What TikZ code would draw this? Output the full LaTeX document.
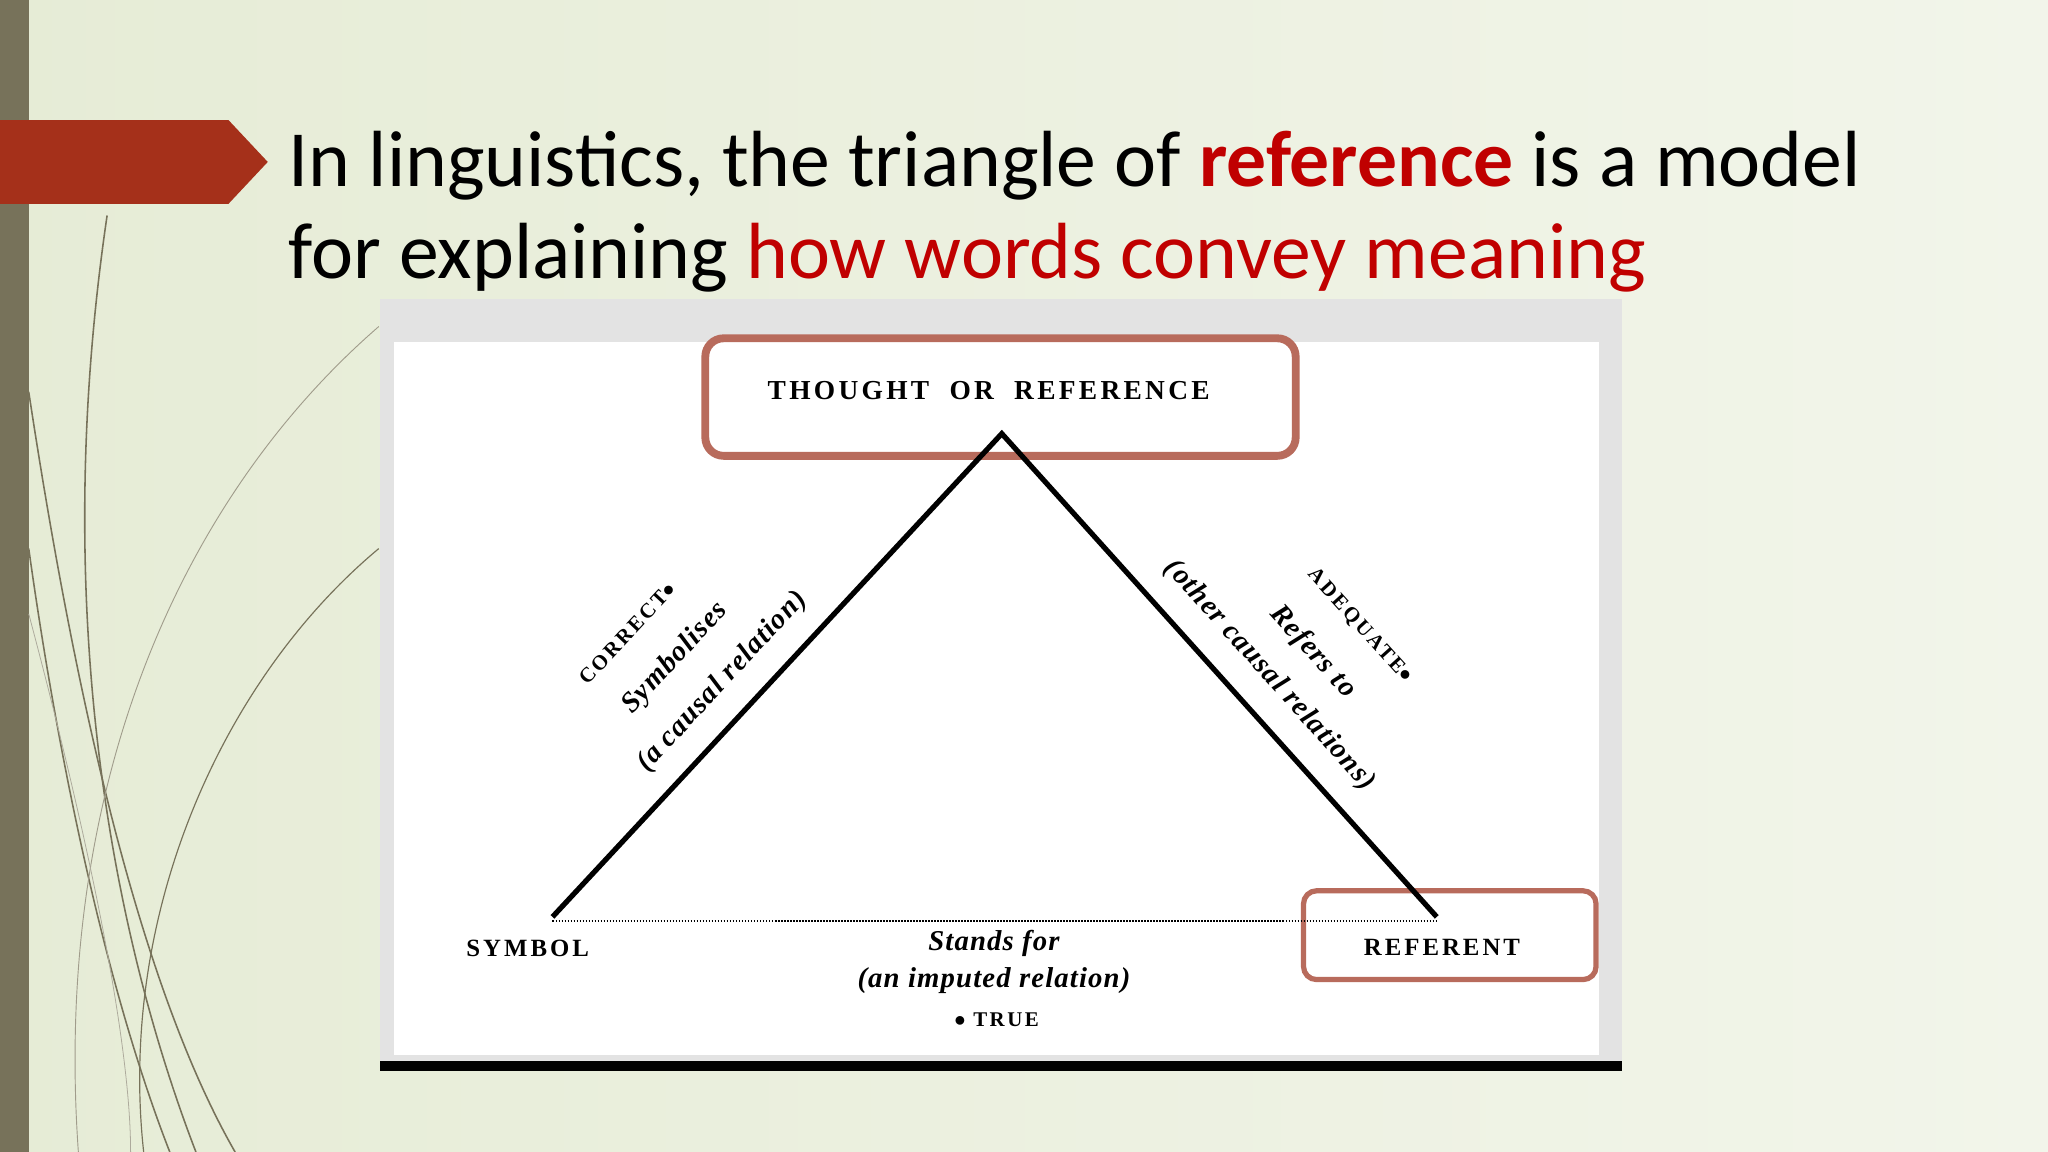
\documentclass[tikz,border=0pt]{standalone}
\usepackage{fontspec}
\setmainfont{Carlito}
\newfontfamily\dia[LetterSpace=12]{Liberation Serif}
\newfontfamily\diai[LetterSpace=4]{Liberation Serif}
\definecolor{bgl}{HTML}{E6ECD6}
\definecolor{bgr}{HTML}{F2F5EA}
\definecolor{olive}{HTML}{77725A}
\definecolor{arrowred}{HTML}{A5301A}
\definecolor{titlered}{HTML}{C00000}
\definecolor{boxred}{HTML}{B86B5C}
\begin{document}
\begin{tikzpicture}[x=1pt,y=-1pt,
  lab/.style={font=\dia\bfseries\fontsize{21}{23}\selectfont,inner sep=1pt},
  slab/.style={font=\dia\bfseries\fontsize{16}{18}\selectfont,inner sep=1pt},
  ilab/.style={font=\diai\bfseries\itshape\fontsize{22}{24}\selectfont,inner sep=1pt},
  rbox/.style={draw=boxred,line width=6pt,rounded corners=14pt}]
\useasboundingbox (0,0) rectangle (1568,882);
\shade[left color=bgl,right color=bgr] (0,0) rectangle (1568,882);
\fill[olive] (0,0) rectangle (22,882);
% decorative curves
\begin{scope}[olive,line width=1.2pt]
\draw (82,165) .. controls (40,450) and (80,700) .. (150,882);
\draw (22,300) .. controls (60,550) and (110,760) .. (180,882);
\draw (22,420) .. controls (50,620) and (90,780) .. (130,882);
\draw[line width=0.7pt,olive!70] (290,250) .. controls (140,380) and (40,600) .. (60,882);
\draw[line width=0.9pt] (290,420) .. controls (170,520) and (90,700) .. (110,882);
\draw[line width=0.6pt,olive!60] (22,470) .. controls (70,650) and (100,800) .. (100,882);
\end{scope}
% arrow
\fill[arrowred] (0,92) -- (175,92) -- (205,124) -- (175,156) -- (0,156) -- cycle;
% title
\node[anchor=base west,inner sep=0,font=\fontsize{61}{66}\selectfont] (t1) at (221,143)
  {In linguistics, the triangle of \textcolor{titlered}{\textbf{reference}} is a model};
\node[anchor=base west,inner sep=0,font=\fontsize{61}{66}\selectfont] (t2) at (221,213)
  {for explaining \textcolor{titlered}{how words convey meaning}};
% picture frame
\fill[gray!22] (291,229) rectangle (1242,820);
\fill[white] (302,262) rectangle (1224,808);
\fill[black] (291,812) rectangle (1242,820);
% nodes
\node[rbox,minimum width=452pt,minimum height=90pt] (top) at (766,304) {};
\node[lab] (thought) at (757,299) {THOUGHT\ \ OR\ \ REFERENCE};
\node[rbox,minimum width=224pt,minimum height=68pt,rounded corners=10pt,line width=4pt] (refbox) at (1110,716) {};
\node[lab,font=\dia\bfseries\fontsize{19}{21}\selectfont] (referent) at (1104,725) {REFERENT};
\node[lab,font=\dia\bfseries\fontsize{19}{21}\selectfont] (symbol) at (404,726) {SYMBOL};
\coordinate (A) at (767,332);
\coordinate (L) at (423,702);
\coordinate (R) at (1100,702);
\draw[line width=4pt,line join=miter] (L) -- (A) -- (R);
\draw[densely dotted,line width=1.3pt] (423,705) -- (1100,705);
% side labels
\node[slab,rotate=47] (correct) at (480,485) {CORRECT$\bullet$};
\node[ilab,rotate=47] (symb) at (517,504) {Symbolises};
\node[ilab,rotate=47] (acr) at (553,522) {(a causal relation)};
\node[ilab,rotate=-48] (ocr) at (972,517) {(other causal relations)};
\node[ilab,rotate=-48] (ref) at (1005,499) {Refers to};
\node[slab,rotate=-48] (adeq) at (1041,479) {ADEQUATE$\bullet$};
% bottom labels
\node[ilab] (stands) at (761,722) {Stands for};
\node[ilab] (imp) at (761,751) {(an imputed relation)};
\node[slab] (true) at (763,781) {$\bullet$\ TRUE};
\end{tikzpicture}
\end{document}
